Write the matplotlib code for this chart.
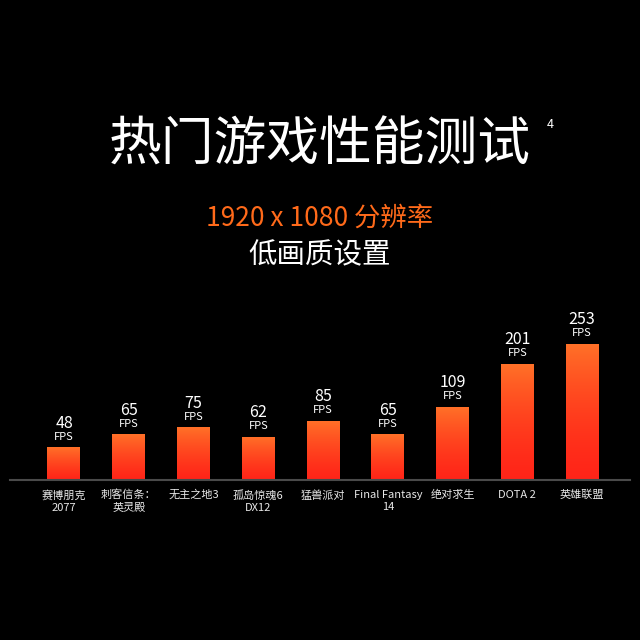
import numpy as np
import matplotlib
matplotlib.use("Agg")
import matplotlib.pyplot as plt
from matplotlib.colors import LinearSegmentedColormap

plt.rcParams['font.family'] = ['Noto Sans CJK SC', 'DejaVu Sans']

categories = ["赛博朋克\n2077", "刺客信条：\n英灵殿", "无主之地3", "孤岛惊魂6\nDX12",
              "猛兽派对", "Final Fantasy\n14", "绝对求生", "DOTA 2", "英雄联盟"]
fps = [48, 65, 75, 62, 85, 65, 109, 201, 253]
title = "热门游戏性能测试"
title_note = "4"
subtitle1 = "1920 x 1080 分辨率"
subtitle2 = "低画质设置"
unit = "FPS"

BG = "#000000"
fig = plt.figure(figsize=(6.4, 6.4), dpi=100, facecolor=BG)
ax = fig.add_axes([10/640, 160/640, 620/640, 180/640], facecolor=BG)
ax.set_yscale('function', functions=(np.sqrt, np.square))
ax.set_ylim(16.6, 385)
ax.set_xlim(-0.834, 8.74)

cmap = LinearSegmentedColormap.from_list("g", ["#FF2418", "#FF7228"])
grad = np.linspace(0, 1, 256).reshape(-1, 1)
x = np.arange(len(fps))
w = 0.51
bars = ax.bar(x, fps, width=w, bottom=0, color="none", edgecolor="none")
for b, v in zip(bars, fps):
    im = ax.imshow(grad, cmap=cmap, origin='lower', aspect='auto',
                   extent=(b.get_x(), b.get_x() + w, 16.6, v), zorder=2)
    im.set_clip_path(b)
    ax.annotate(str(v), (b.get_x() + w/2, v), xytext=(0, 19), textcoords='offset pixels',
                ha='center', va='baseline', color='white', fontsize=11.5)
    ax.annotate(unit, (b.get_x() + w/2, v), xytext=(0, 7), textcoords='offset pixels',
                ha='center', va='baseline', color='white', fontsize=8)
ax.set_xlim(-0.834, 8.74)
ax.set_ylim(16.6, 385)

for s in ['top', 'right', 'left']:
    ax.spines[s].set_visible(False)
ax.spines['bottom'].set_color('#4a4a4a')
ax.spines['bottom'].set_linewidth(1.5)
ax.set_yticks([])
ax.set_xticks(x)
ax.set_xticklabels(categories, color='#e8e8e8', fontsize=8, linespacing=1.3)
ax.tick_params(axis='x', length=0, pad=7)

fig.text(0.5, 1 - 145/640, title, ha='center', va='center', color='white',
         fontsize=38, fontweight='medium')
fig.text(550/640, 1 - 125/640, title_note, ha='center', va='center', color='white', fontsize=9)
fig.text(0.5, 1 - 218/640, subtitle1, ha='center', va='center', color='#FF6A1A', fontsize=19)
fig.text(0.5, 1 - 255/640, subtitle2, ha='center', va='center', color='white', fontsize=20.5)

fig.savefig("out.png", dpi=100, facecolor=BG)
